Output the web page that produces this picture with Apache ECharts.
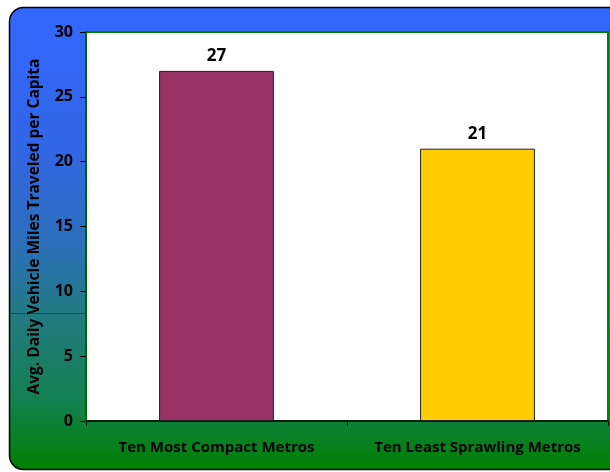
<!DOCTYPE html>
<html>
<head>
<meta charset="utf-8">
<script src="https://cdn.jsdelivr.net/npm/echarts@6/dist/echarts.min.js"></script>
<style>html,body{margin:0;padding:0;background:#fff;}#c{width:610px;height:472px;}</style>
</head>
<body>
<div id="c"></div>
<script>
const categories = ['Ten Most Compact Metros', 'Ten Least Sprawling Metros'];
const values = [27, 21];
const barColors = ['#993366', '#ffcc00'];
const yTicks = [0, 5, 10, 15, 20, 25, 30];
const yTitle = 'Avg. Daily Vehicle Miles Traveled per Capita';

const chart = echarts.init(document.getElementById('c'), null, {renderer: 'canvas'});
const font = '"Open Sans", "DejaVu Sans", sans-serif';
chart.setOption({
  animation: false,
  backgroundColor: '#ffffff',
  graphic: [
    {
      type: 'rect', z: -10, silent: true,
      shape: {x: 9.5, y: 7.5, width: 640, height: 462, r: 14},
      style: {
        fill: new echarts.graphic.LinearGradient(0, 0, 0, 1, [
          {offset: 0, color: '#3366ff'},
          {offset: 0.3, color: '#3166e6'},
          {offset: 0.52, color: '#2b70b8'},
          {offset: 0.66, color: '#237a82'},
          {offset: 0.85, color: '#138050'},
          {offset: 1, color: '#008000'}
        ]),
        stroke: '#000', lineWidth: 1.5
      }
    },
    {
      type: 'line', z: -9, silent: true,
      shape: {x1: 11, y1: 313.5, x2: 85, y2: 313.5},
      style: {stroke: '#1b4f4f', lineWidth: 1}
    }
  ],
  grid: {
    left: 86, top: 32, right: 2, bottom: 51,
    show: true, backgroundColor: '#ffffff', borderColor: '#008000', borderWidth: 2
  },
  xAxis: {
    type: 'category',
    data: categories,
    axisLine: {show: true, lineStyle: {color: '#000', width: 1.5}},
    axisTick: {show: true, alignWithLabel: false, length: 5, lineStyle: {color: '#000'}},
    axisLabel: {color: '#000', fontWeight: 'bold', fontSize: 15, fontFamily: font, margin: 19,
      interval: 0, hideOverlap: false}
  },
  yAxis: {
    type: 'value', min: 0, max: 30, interval: 5,
    name: yTitle, nameLocation: 'middle', nameGap: 43,
    nameTextStyle: {color: '#000', fontWeight: 'bold', fontSize: 15.5, fontFamily: font},
    axisLine: {show: true, lineStyle: {color: '#006400', width: 2}},
    axisTick: {show: true, length: 6, lineStyle: {color: '#000'}},
    axisLabel: {color: '#000', fontWeight: 'bold', fontSize: 16, fontFamily: font, margin: 13,
      formatter: v => yTicks.includes(v) ? String(v) : ''},
    splitLine: {show: false}
  },
  series: [{
    type: 'bar',
    barWidth: '44%',
    data: values.map((v, i) => ({value: v, itemStyle: {color: barColors[i], borderColor: '#222', borderWidth: 1}})),
    label: {show: true, position: 'top', distance: 6, color: '#000', fontWeight: 'bold', fontSize: 17, fontFamily: font}
  }]
});
</script>
</body>
</html>
